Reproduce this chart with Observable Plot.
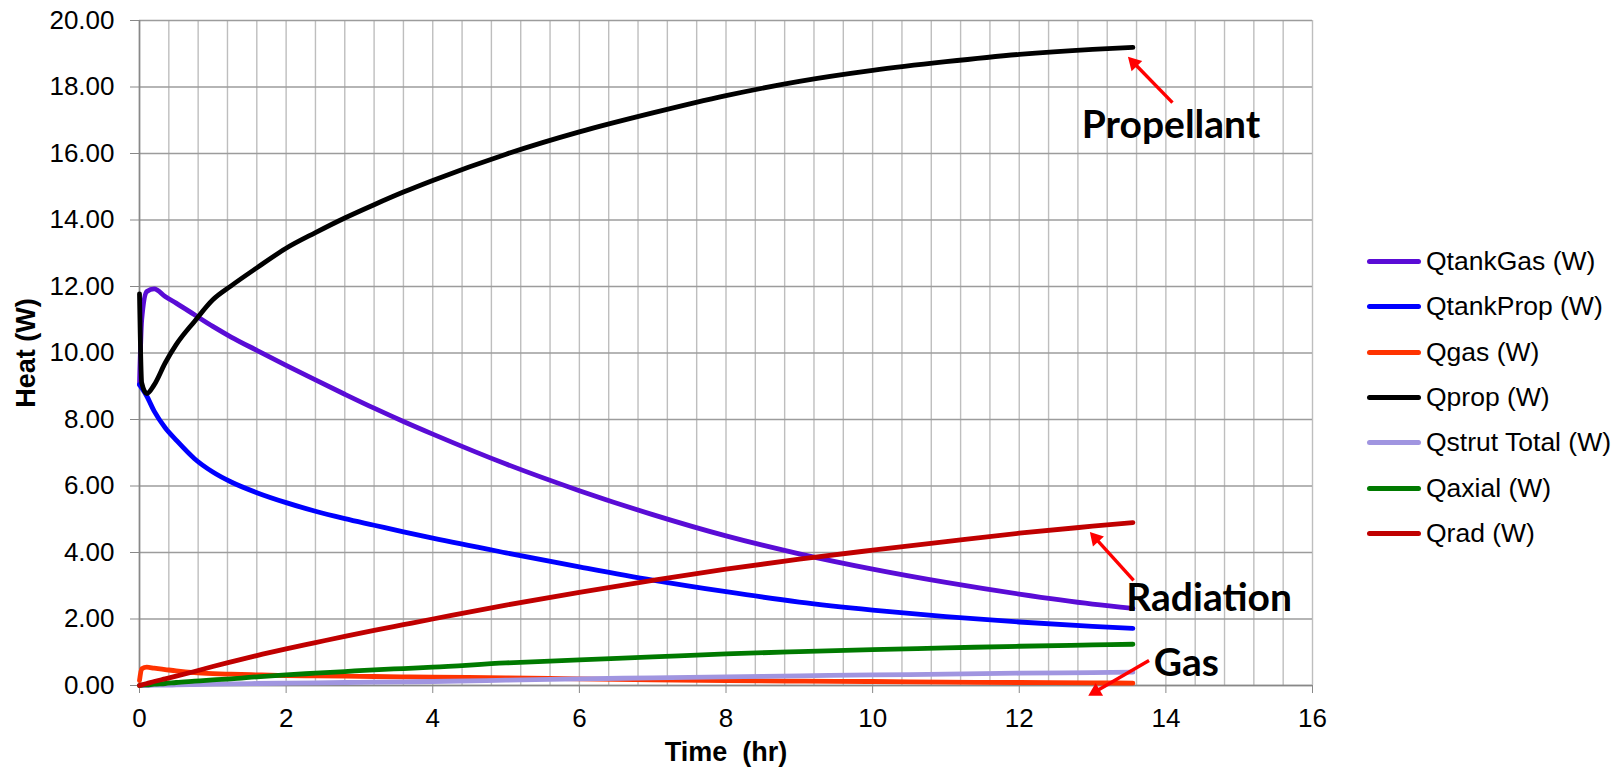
<!DOCTYPE html>
<html>
<head>
<meta charset="utf-8">
<script src="https://cdn.jsdelivr.net/npm/d3@7"></script>
<script src="https://cdn.jsdelivr.net/npm/@observablehq/plot@0.6"></script>
<style>
  html, body { margin: 0; padding: 0; background: #fff; }
  #wrap { position: relative; width: 1624px; height: 770px; overflow: hidden; }
  #legend { position: absolute; left: 1367px; top: 239px; font-family: "Liberation Sans", Arial, sans-serif; font-size: 26.5px; color: #000; }
  #legend .row { height: 45.3px; display: flex; align-items: center; white-space: nowrap; }
  #legend .sw { width: 54px; height: 5px; border-radius: 3px; margin-right: 5px; }
</style>
</head>
<body>
<div id="wrap"><div id="legend"></div></div>
<script>
// ---- data ----
const time = [0, 0.03, 0.1, 0.2, 0.35, 0.5, 0.75, 1, 1.25, 1.6, 2, 2.4, 2.8, 3.2, 3.6, 4, 5, 6, 7, 8, 9, 10, 11, 12, 13, 13.55];

const seriesNames = ["QtankGas (W)", "QtankProp (W)", "Qgas (W)", "Qprop (W)", "Qstrut Total (W)", "Qaxial (W)", "Qrad (W)"];
const seriesColors = ["#5A0CD6", "#0000FF", "#FF3300", "#000000", "#A095E0", "#007A00", "#C00000"];

const qTankGas  = [9.05, 11.0, 11.85, 11.93, 11.7, 11.5, 11.15, 10.8, 10.48, 10.08, 9.63, 9.19, 8.76, 8.34, 7.94, 7.56, 6.66, 5.86, 5.14, 4.5, 3.96, 3.5, 3.1, 2.75, 2.45, 2.32];
const qTankProp = [9.05, 8.95, 8.7, 8.25, 7.75, 7.38, 6.82, 6.42, 6.12, 5.8, 5.5, 5.24, 5.02, 4.82, 4.62, 4.43, 3.99, 3.57, 3.17, 2.82, 2.51, 2.27, 2.07, 1.91, 1.78, 1.72];
const qGas      = [0.15, 0.5, 0.55, 0.52, 0.48, 0.44, 0.39, 0.36, 0.34, 0.32, 0.3, 0.29, 0.28, 0.27, 0.26, 0.25, 0.23, 0.2, 0.17, 0.15, 0.13, 0.12, 0.1, 0.09, 0.08, 0.07];
const qProp     = [11.78, 9.1, 8.78, 9.04, 9.7, 10.25, 10.95, 11.6, 12.02, 12.56, 13.15, 13.62, 14.06, 14.46, 14.84, 15.19, 15.98, 16.65, 17.22, 17.74, 18.17, 18.5, 18.76, 18.98, 19.13, 19.19];
const qStrut    = [0, 0, 0, 0.01, 0.01, 0.02, 0.03, 0.04, 0.05, 0.06, 0.07, 0.08, 0.09, 0.1, 0.11, 0.12, 0.16, 0.2, 0.23, 0.26, 0.29, 0.32, 0.34, 0.37, 0.39, 0.4];
const qAxial    = [0, 0.01, 0.02, 0.04, 0.06, 0.09, 0.13, 0.17, 0.2, 0.26, 0.32, 0.37, 0.42, 0.47, 0.51, 0.55, 0.68, 0.77, 0.86, 0.95, 1.02, 1.08, 1.13, 1.18, 1.22, 1.24];
const qRad      = [0, 0.02, 0.06, 0.12, 0.2, 0.28, 0.42, 0.57, 0.71, 0.9, 1.1, 1.29, 1.48, 1.66, 1.83, 2.0, 2.42, 2.8, 3.16, 3.5, 3.8, 4.07, 4.33, 4.58, 4.79, 4.9];

const seriesValues = [qTankGas, qTankProp, qGas, qProp, qStrut, qAxial, qRad];

const yTicks = [0, 2, 4, 6, 8, 10, 12, 14, 16, 18, 20];
const xTicks = [0, 2, 4, 6, 8, 10, 12, 14, 16];
const xMinorTicks = d3.range(0, 16.001, 0.4);

const xTitle = "Time  (hr)";
const yTitle = "Heat (W)";

// annotations (data coordinates)
const annLabels = ["Propellant", "Radiation", "Gas"];
const annTextX = [14.07, 14.59, 14.28];
const annTextY = [16.84, 2.63, 0.66];
const annFromX = [14.09, 13.56, 13.77];
const annFromY = [17.53, 3.16, 0.75];
const annToX   = [13.49, 12.97, 12.95];
const annToY   = [18.89, 4.60, -0.30];

// ---- layout ----
const W = 1624, H = 770, mL = 139, mR = 312, mT = 20, mB = 85;
const xDomain = [0, 16], yDomain = [0, 20];
const kx = (W - mL - mR) / (xDomain[1] - xDomain[0]);
const ky = (H - mT - mB) / (yDomain[1] - yDomain[0]);

const lineMarks = seriesNames.map((name, i) => {
  const rows = time.map((t, j) => ({t, v: seriesValues[i][j]}));
  return Plot.line(rows, {x: "t", y: "v", stroke: seriesColors[i], strokeWidth: 4.8, curve: "monotone-x", strokeLinecap: "round", strokeLinejoin: "round"});
});

// arrow geometry: line ends at the centroid of a filled triangle head
const headBack = 7.8; // px from tip to triangle centroid
const ann = annLabels.map((label, i) => {
  const dxp = (annToX[i] - annFromX[i]) * kx;
  const dyp = -(annToY[i] - annFromY[i]) * ky;
  const len = Math.hypot(dxp, dyp);
  const ux = dxp / len, uy = dyp / len;
  const cx = annToX[i] - ux * headBack / kx;
  const cy = annToY[i] + uy * headBack / ky;
  const angle = Math.atan2(dxp, -dyp) * 180 / Math.PI;
  return {label, tx: annTextX[i], ty: annTextY[i], x1: annFromX[i], y1: annFromY[i], cx, cy, angle};
});

const chart = Plot.plot({
  width: W,
  height: H,
  marginLeft: mL,
  marginRight: mR,
  marginTop: mT,
  marginBottom: mB,
  style: {fontFamily: "'Liberation Sans', Arial, sans-serif", fontSize: "26px", color: "#000", background: "transparent", overflow: "visible"},
  x: {domain: xDomain},
  y: {domain: yDomain},
  marks: [
    Plot.gridX(xMinorTicks, {stroke: "#BEBEBE", strokeOpacity: 1, strokeWidth: 1.4}),
    Plot.gridY(yTicks, {stroke: "#9C9C9C", strokeOpacity: 1, strokeWidth: 1.4}),
    Plot.axisY(yTicks, {tickFormat: d => d.toFixed(2), tickSize: 9, tickPadding: 16, stroke: "#888", label: null, fontSize: 26}),
    Plot.axisX(xTicks, {tickFormat: d => String(d), tickSize: 8, tickPadding: 15, stroke: "#888", label: null, fontSize: 26}),
    Plot.ruleX([0], {stroke: "#888", strokeWidth: 1.6}),
    Plot.ruleY([0], {stroke: "#888", strokeWidth: 1.6}),
    Plot.text([xTitle], {frameAnchor: "bottom", dy: 67, text: d => d, fontWeight: "bold", fontSize: 27, lineAnchor: "middle", textAnchor: "middle"}),
    Plot.text([yTitle], {frameAnchor: "left", dx: -113, rotate: -90, text: d => d, fontWeight: "bold", fontSize: 27, lineAnchor: "middle", textAnchor: "middle"}),
    ...lineMarks,
    Plot.link(ann, {x1: "x1", y1: "y1", x2: "cx", y2: "cy", stroke: "#FF0000", strokeWidth: 3.4, clip: false}),
    Plot.dot(ann, {x: "cx", y: "cy", symbol: "triangle", r: 5.5, fill: "#FF0000", stroke: "none", rotate: "angle", clip: false}),
    Plot.text(ann, {x: "tx", y: "ty", text: "label", fontFamily: "Lato, 'Open Sans', sans-serif", fontWeight: "bold", fontSize: 39, fill: "#000", textAnchor: "middle", lineAnchor: "middle", clip: false})
  ]
});

document.getElementById("wrap").prepend(chart);

// legend
const legend = document.getElementById("legend");
seriesNames.forEach((name, i) => {
  const row = document.createElement("div");
  row.className = "row";
  const sw = document.createElement("div");
  sw.className = "sw";
  sw.style.background = seriesColors[i];
  const tx = document.createElement("span");
  tx.textContent = name;
  row.appendChild(sw);
  row.appendChild(tx);
  legend.appendChild(row);
});
</script>
</body>
</html>
